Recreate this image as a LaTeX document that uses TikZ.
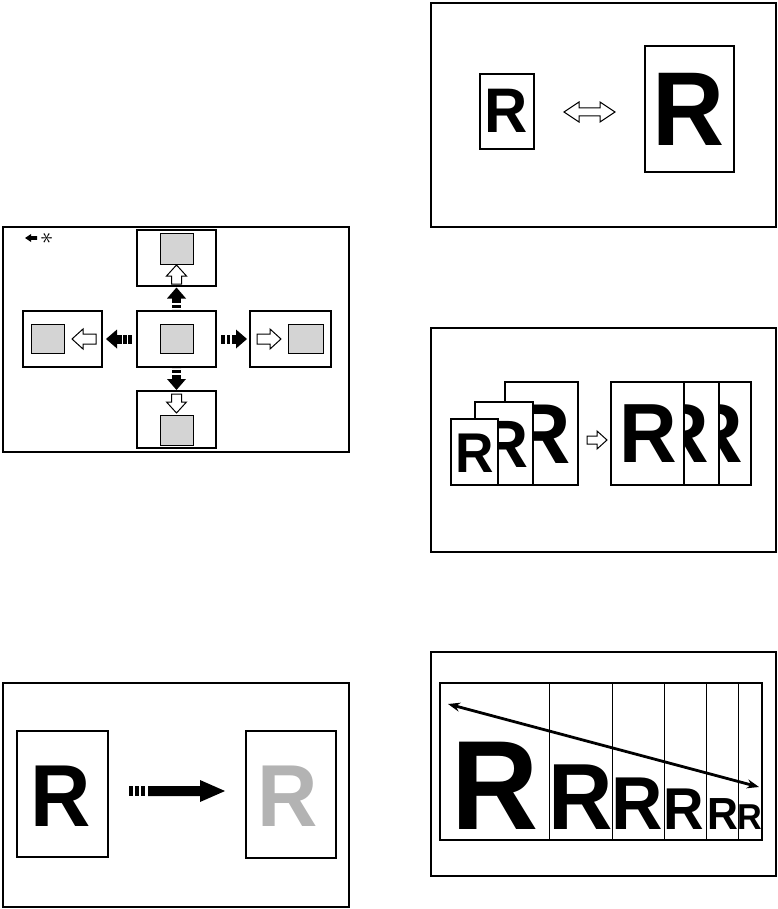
\documentclass[tikz,border=0pt]{standalone}
\usepackage{fontspec}
\newfontfamily\Rfont{Liberation Sans}
\usetikzlibrary{arrows.meta}
\definecolor{boxgrey}{HTML}{D4D4D4}
\definecolor{Rgrey}{HTML}{B3B3B3}
\newcommand\bigR[1]{{\fontsize{#1}{#1}\selectfont\Rfont\bfseries\scalebox{0.95}[1]{R}}}
\tikzset{
  frame/.style={draw, line width=1.2pt},
  thickbox/.style={draw, line width=2.8pt},
  greysq/.style={draw, fill=boxgrey, line width=0.9pt},
  page/.style={draw, fill=white, line width=1.2pt},
  heavypage/.style={draw, fill=white, line width=2.3pt},
  Rtxt/.style={anchor=base, inner sep=0pt},
  pics/hollow/.style={code={\draw[line width=1pt, fill=white] (0,0) -- (-11,-10) -- (-11,-5) -- (-#1,-5) -- (-#1,5) -- (-11,5) -- (-11,10) -- cycle;}},
  pics/blackarrow/.style={code={\fill (0,0) -- (-11,-9.5) -- (-11,9.5) -- cycle;
      \fill (-10.8,-4.5) rectangle (-15.5,4.5);
      \fill (-17,-4.5) rectangle (-20.5,4.5);
      \fill (-22,-4.5) rectangle (-#1,4.5);}},
}
\begin{document}
\begin{tikzpicture}[x=1pt,y=-1pt]
\useasboundingbox (0,0) rectangle (777,909);

% ---------- Panel 1 : shifting ----------
\draw[frame] (3,227) rectangle (349,452);
% legend
\fill (25,238) -- (31,234) -- (31,236.2) -- (37,236.2) -- (37,239.8) -- (31,239.8) -- (31,242) -- cycle;
\node[inner sep=0pt, rotate=90] (ast) at (47,238) {\fontsize{26}{26}\selectfont$\ast$};
% boxes
\draw[thickbox] (137,230) rectangle (216,286);
\draw[greysq] (160,233) rectangle (193,264);
\draw[thickbox] (137,311) rectangle (216,367);
\draw[greysq] (160,324) rectangle (193,353);
\draw[thickbox] (23,311) rectangle (102,367);
\draw[greysq] (31,324) rectangle (64,353);
\draw[thickbox] (250,311) rectangle (331,367);
\draw[greysq] (288,324) rectangle (323,353);
\draw[thickbox] (137,391) rectangle (216,448);
\draw[greysq] (160,415) rectangle (193,445);
% hollow arrows inside boxes
\pic[rotate=90] at (176.5,265) {hollow=19};
\pic[rotate=-90] at (176.5,413) {hollow=19};
\pic[rotate=180] at (72,339) {hollow=24};
\pic at (281,339) {hollow=24};
% black arrows
\pic[rotate=90] at (176.5,287.5) {blackarrow=22};
\pic[rotate=-90] at (176.5,390) {blackarrow=22};
\pic[rotate=180] at (106,339) {blackarrow=26};
\pic at (247,339) {blackarrow=26};

% ---------- Panel 2 : fading ----------
\draw[frame] (3,683) rectangle (349,907);
\draw[heavypage] (17,731) rectangle (108,857);
\draw[heavypage] (246,731) rectangle (336,858);
\node[Rtxt] (r2a) at (61,826) {\bigR{88}};
\node[Rtxt, text=Rgrey] (r2b) at (288,826) {\bigR{88}};
\fill (129,786) rectangle (133,796);
\fill (135,786) rectangle (139,796);
\fill (141,786) rectangle (145,796);
\fill (148,786) -- (200,786) -- (200,780) -- (225,791) -- (200,802) -- (200,796) -- (148,796) -- cycle;

% ---------- Panel 3 : enlarge / reduce ----------
\draw[frame] (431,3) rectangle (776,227);
\draw[page] (480,74) rectangle (534,149);
\draw[page] (645,46) rectangle (734,172);
\node[Rtxt] (r3a) at (506.5,133) {\bigR{63}};
\node[Rtxt] (r3b) at (689,146) {\bigR{105}};
\draw[line width=1pt, fill=white] (564,112) -- (579,102) -- (579,108) -- (600,108) -- (600,102) -- (615,112) -- (600,122) -- (600,116) -- (579,116) -- (579,122) -- cycle;

% ---------- Panel 4 : combine ----------
\draw[frame] (431,328) rectangle (776,552);
\draw[page] (505,382) rectangle (578,485);
\node[Rtxt] (r4a) at (541.3,463) {\bigR{85}};
\draw[page] (475,402) rectangle (533,485);
\node[Rtxt] (r4b) at (505.2,467) {\bigR{67}};
\draw[page] (451,419) rectangle (498,485);
\node[Rtxt] (r4c) at (474.6,472) {\bigR{56}};
\draw[line width=1pt, fill=white] (607,440) -- (597,431) -- (597,436) -- (587,436) -- (587,444) -- (597,444) -- (597,449) -- cycle;
\draw[page] (611,382) rectangle (751,485);
\node[Rtxt] (r4d) at (648.4,462) {\bigR{84}};
\begin{scope}
  \clip (684,382) rectangle (719,485);
  \node[Rtxt] (r4e) at (680.6,462) {\bigR{84}};
\end{scope}
\begin{scope}
  \clip (719,382) rectangle (751,485);
  \node[Rtxt] (r4f) at (714.6,462) {\bigR{84}};
\end{scope}
\draw[line width=1.2pt] (684,382) -- (684,485) (719,382) -- (719,485);

% ---------- Panel 5 : gradation ----------
\draw[frame] (431,652) rectangle (776,876);
\draw[line width=1.1pt] (440,683) rectangle (762,840);
\foreach \xx in {549,612,664,706,738} \draw[line width=1pt] (\xx,683) -- (\xx,840);
\node[Rtxt] (g1) at (494.8,829) {\bigR{127}};
\node[Rtxt] (g2) at (580.7,829) {\bigR{94}};
\node[Rtxt] (g3) at (637.6,829) {\bigR{75}};
\node[Rtxt] (g4) at (684.0,829) {\bigR{59}};
\node[Rtxt] (g5) at (722.9,829) {\bigR{45}};
\node[Rtxt] (g6) at (749.6,829) {\bigR{36}};
\coordinate (a1) at (448,704);
\coordinate (a2) at (759,787);
\draw[line width=2.8pt, {Stealth[length=12pt,width=9pt]}-{Stealth[length=12pt,width=9pt]}] (a1) -- (a2);
\end{tikzpicture}
\end{document}
